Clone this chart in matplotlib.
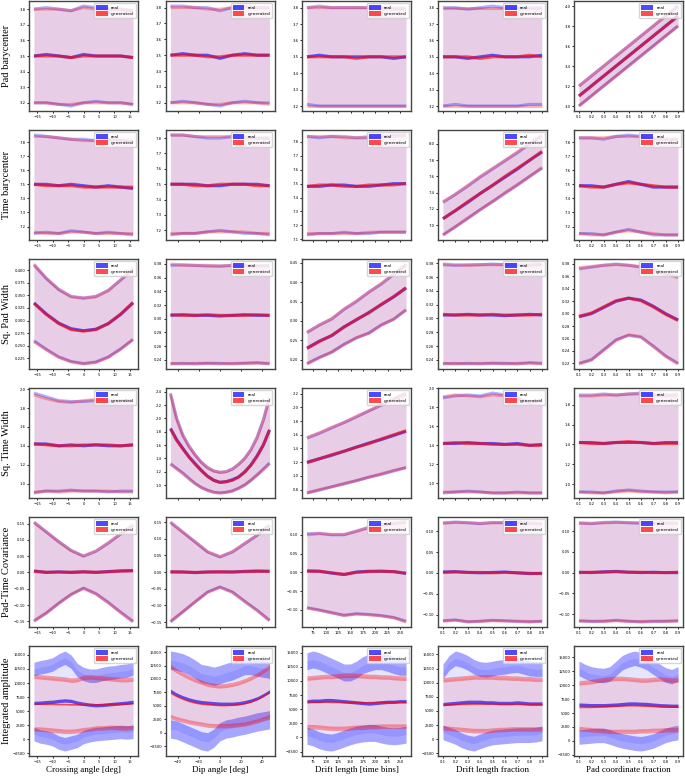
import numpy as np
import matplotlib.pyplot as plt
from matplotlib.patches import Patch
from matplotlib.ticker import MaxNLocator

plt.rcParams['xtick.labelsize'] = 2.7
plt.rcParams['ytick.labelsize'] = 2.7

# column x ranges and labels
x_ranges = [(-16, 16), (-47, 47), (62, 262), (0.1, 0.9), (0.1, 0.9)]
x_names = ["Crossing angle [deg]", "Dip angle [deg]", "Drift length [time bins]",
           "Drift length fraction", "Pad coordinate fraction"]
y_names = ["Pad barycenter", "Time barycenter", "Sq. Pad Width", "Sq. Time Width",
           "Pad-Time Covariance", "Integrated amplitude"]

# ---- Pad barycenter
pad_bary_real_mean = [[3.50, 3.51, 3.50, 3.49, 3.51, 3.50, 3.50, 3.50, 3.49],
                      [3.50, 3.51, 3.50, 3.50, 3.48, 3.50, 3.51, 3.50, 3.50],
                      [3.50, 3.51, 3.50, 3.50, 3.50, 3.50, 3.50, 3.49, 3.50],
                      [3.50, 3.50, 3.49, 3.50, 3.51, 3.50, 3.50, 3.50, 3.51],
                      [3.10, 3.20, 3.30, 3.40, 3.50, 3.60, 3.70, 3.80, 3.90]]
pad_bary_real_hi = [[3.80, 3.81, 3.80, 3.79, 3.82, 3.81, 3.80, 3.80, 3.79],
                    [3.81, 3.81, 3.80, 3.80, 3.78, 3.80, 3.81, 3.80, 3.80],
                    [3.80, 3.81, 3.80, 3.80, 3.80, 3.80, 3.80, 3.79, 3.80],
                    [3.80, 3.80, 3.79, 3.80, 3.81, 3.80, 3.80, 3.80, 3.80],
                    [3.20, 3.30, 3.40, 3.50, 3.60, 3.70, 3.80, 3.90, 4.00]]
pad_bary_real_lo = [[3.20, 3.20, 3.19, 3.18, 3.20, 3.21, 3.20, 3.20, 3.19],
                    [3.20, 3.21, 3.20, 3.19, 3.18, 3.20, 3.21, 3.20, 3.20],
                    [3.21, 3.20, 3.20, 3.20, 3.20, 3.20, 3.20, 3.20, 3.20],
                    [3.20, 3.21, 3.20, 3.20, 3.20, 3.20, 3.20, 3.21, 3.21],
                    [3.00, 3.10, 3.20, 3.30, 3.40, 3.50, 3.60, 3.70, 3.80]]
pad_bary_gen_mean = [[3.50, 3.50, 3.50, 3.49, 3.50, 3.50, 3.50, 3.50, 3.49],
                     [3.50, 3.50, 3.50, 3.49, 3.49, 3.50, 3.50, 3.50, 3.50],
                     [3.50, 3.50, 3.50, 3.50, 3.49, 3.50, 3.50, 3.50, 3.50],
                     [3.50, 3.50, 3.50, 3.49, 3.50, 3.50, 3.50, 3.51, 3.50],
                     [3.10, 3.20, 3.30, 3.40, 3.50, 3.60, 3.70, 3.80, 3.90]]
pad_bary_gen_hi = [[3.80, 3.80, 3.80, 3.79, 3.81, 3.80, 3.80, 3.80, 3.79],
                   [3.80, 3.80, 3.80, 3.79, 3.79, 3.80, 3.80, 3.80, 3.80],
                   [3.80, 3.80, 3.80, 3.80, 3.80, 3.80, 3.80, 3.80, 3.79],
                   [3.80, 3.80, 3.80, 3.80, 3.80, 3.80, 3.80, 3.80, 3.80],
                   [3.20, 3.30, 3.40, 3.50, 3.60, 3.70, 3.80, 3.90, 4.00]]
pad_bary_gen_lo = [[3.20, 3.20, 3.19, 3.19, 3.20, 3.20, 3.20, 3.20, 3.19],
                   [3.20, 3.20, 3.20, 3.19, 3.19, 3.20, 3.20, 3.20, 3.19],
                   [3.20, 3.20, 3.20, 3.20, 3.20, 3.20, 3.20, 3.20, 3.20],
                   [3.20, 3.20, 3.20, 3.20, 3.20, 3.20, 3.20, 3.20, 3.20],
                   [3.00, 3.10, 3.20, 3.30, 3.40, 3.50, 3.60, 3.70, 3.80]]

# ---- Time barycenter
time_bary_real_mean = [[7.50, 7.50, 7.49, 7.50, 7.49, 7.48, 7.49, 7.48, 7.47],
                       [7.50, 7.50, 7.50, 7.49, 7.49, 7.50, 7.50, 7.50, 7.49],
                       [7.48, 7.48, 7.49, 7.49, 7.48, 7.48, 7.49, 7.50, 7.50],
                       [7.08, 7.18, 7.28, 7.39, 7.49, 7.59, 7.69, 7.80, 7.90],
                       [7.49, 7.49, 7.48, 7.50, 7.52, 7.50, 7.48, 7.48, 7.48]]
time_bary_real_hi = [[7.85, 7.84, 7.83, 7.82, 7.82, 7.81, 7.82, 7.81, 7.80],
                     [7.82, 7.82, 7.81, 7.80, 7.80, 7.81, 7.81, 7.80, 7.80],
                     [7.84, 7.83, 7.84, 7.84, 7.83, 7.83, 7.84, 7.85, 7.85],
                     [7.28, 7.38, 7.48, 7.59, 7.69, 7.79, 7.89, 8.00, 8.10],
                     [7.83, 7.83, 7.82, 7.84, 7.85, 7.84, 7.82, 7.82, 7.82]]
time_bary_real_lo = [[7.15, 7.16, 7.15, 7.17, 7.16, 7.15, 7.16, 7.15, 7.14],
                     [7.17, 7.18, 7.18, 7.19, 7.20, 7.19, 7.18, 7.18, 7.17],
                     [7.13, 7.14, 7.14, 7.15, 7.14, 7.14, 7.15, 7.15, 7.15],
                     [6.88, 6.98, 7.08, 7.19, 7.29, 7.39, 7.49, 7.60, 7.70],
                     [7.15, 7.15, 7.14, 7.16, 7.18, 7.16, 7.14, 7.14, 7.14]]
time_bary_gen_mean = [[7.50, 7.49, 7.49, 7.49, 7.48, 7.48, 7.48, 7.48, 7.48],
                      [7.50, 7.50, 7.49, 7.49, 7.50, 7.50, 7.50, 7.49, 7.49],
                      [7.48, 7.49, 7.49, 7.48, 7.48, 7.49, 7.49, 7.49, 7.50],
                      [7.08, 7.18, 7.29, 7.39, 7.49, 7.60, 7.70, 7.80, 7.91],
                      [7.49, 7.48, 7.48, 7.50, 7.51, 7.50, 7.49, 7.48, 7.48]]
time_bary_gen_hi = [[7.84, 7.84, 7.83, 7.82, 7.81, 7.81, 7.82, 7.82, 7.81],
                    [7.82, 7.82, 7.81, 7.81, 7.81, 7.81, 7.80, 7.80, 7.80],
                    [7.84, 7.84, 7.84, 7.83, 7.83, 7.84, 7.84, 7.84, 7.85],
                    [7.29, 7.38, 7.49, 7.60, 7.70, 7.80, 7.90, 8.01, 8.11],
                    [7.83, 7.83, 7.83, 7.84, 7.84, 7.84, 7.83, 7.82, 7.82]]
time_bary_gen_lo = [[7.16, 7.15, 7.15, 7.16, 7.16, 7.15, 7.15, 7.15, 7.15],
                    [7.18, 7.18, 7.18, 7.19, 7.19, 7.19, 7.19, 7.18, 7.18],
                    [7.14, 7.14, 7.14, 7.14, 7.14, 7.15, 7.15, 7.15, 7.15],
                    [6.88, 6.98, 7.09, 7.19, 7.29, 7.40, 7.50, 7.60, 7.71],
                    [7.15, 7.14, 7.14, 7.16, 7.17, 7.16, 7.15, 7.14, 7.14]]

# ---- Sq. Pad Width
pad_width_real_mean = [[0.335, 0.313, 0.295, 0.284, 0.280, 0.283, 0.294, 0.312, 0.335],
                       [0.305, 0.306, 0.305, 0.305, 0.304, 0.305, 0.306, 0.305, 0.305],
                       [0.230, 0.248, 0.262, 0.285, 0.303, 0.322, 0.342, 0.362, 0.385],
                       [0.305, 0.305, 0.306, 0.305, 0.305, 0.304, 0.305, 0.306, 0.305],
                       [0.295, 0.300, 0.310, 0.320, 0.325, 0.322, 0.312, 0.300, 0.290]]
pad_width_real_hi = [[0.410, 0.383, 0.362, 0.348, 0.345, 0.348, 0.360, 0.380, 0.402],
                     [0.378, 0.379, 0.378, 0.377, 0.377, 0.378, 0.378, 0.377, 0.378],
                     [0.270, 0.290, 0.305, 0.330, 0.350, 0.375, 0.395, 0.420, 0.445],
                     [0.378, 0.377, 0.378, 0.378, 0.379, 0.378, 0.377, 0.378, 0.379],
                     [0.372, 0.375, 0.378, 0.380, 0.378, 0.375, 0.372, 0.365, 0.360]]
pad_width_real_lo = [[0.260, 0.243, 0.228, 0.219, 0.215, 0.218, 0.228, 0.244, 0.262],
                     [0.234, 0.235, 0.234, 0.235, 0.235, 0.234, 0.235, 0.236, 0.234],
                     [0.190, 0.206, 0.219, 0.240, 0.256, 0.269, 0.289, 0.304, 0.328],
                     [0.235, 0.234, 0.235, 0.234, 0.235, 0.235, 0.234, 0.236, 0.235],
                     [0.220, 0.226, 0.242, 0.258, 0.265, 0.262, 0.248, 0.232, 0.220]]
pad_width_gen_mean = [[0.334, 0.312, 0.294, 0.282, 0.279, 0.282, 0.294, 0.313, 0.336],
                      [0.306, 0.305, 0.305, 0.306, 0.305, 0.305, 0.305, 0.306, 0.305],
                      [0.229, 0.247, 0.263, 0.284, 0.304, 0.321, 0.343, 0.363, 0.386],
                      [0.306, 0.305, 0.305, 0.305, 0.306, 0.305, 0.305, 0.305, 0.306],
                      [0.296, 0.301, 0.311, 0.321, 0.325, 0.321, 0.311, 0.299, 0.289]]
pad_width_gen_hi = [[0.412, 0.384, 0.361, 0.347, 0.344, 0.347, 0.359, 0.381, 0.404],
                    [0.380, 0.378, 0.378, 0.378, 0.377, 0.378, 0.377, 0.378, 0.377],
                    [0.271, 0.289, 0.306, 0.331, 0.352, 0.374, 0.397, 0.421, 0.447],
                    [0.379, 0.378, 0.377, 0.378, 0.378, 0.378, 0.378, 0.377, 0.378],
                    [0.374, 0.376, 0.378, 0.379, 0.378, 0.376, 0.371, 0.364, 0.358]]
pad_width_gen_lo = [[0.258, 0.242, 0.227, 0.218, 0.214, 0.217, 0.227, 0.243, 0.263],
                    [0.235, 0.234, 0.235, 0.235, 0.234, 0.235, 0.235, 0.235, 0.235],
                    [0.189, 0.205, 0.220, 0.239, 0.257, 0.268, 0.290, 0.305, 0.329],
                    [0.234, 0.235, 0.234, 0.235, 0.235, 0.234, 0.235, 0.235, 0.234],
                    [0.219, 0.225, 0.241, 0.257, 0.266, 0.263, 0.247, 0.231, 0.219]]

# ---- Sq. Time Width
time_width_real_mean = [[1.42, 1.42, 1.40, 1.41, 1.40, 1.41, 1.40, 1.40, 1.41],
                        [1.85, 1.68, 1.55, 1.42, 1.32, 1.22, 1.13, 1.07, 1.04,
                         1.05, 1.08, 1.12, 1.20, 1.30, 1.44, 1.60, 1.83],
                        [1.20, 1.25, 1.30, 1.36, 1.42, 1.48, 1.53, 1.59, 1.65],
                        [1.42, 1.42, 1.43, 1.42, 1.42, 1.41, 1.42, 1.40, 1.41],
                        [1.42, 1.42, 1.41, 1.42, 1.42, 1.42, 1.41, 1.42, 1.42]]
time_width_real_hi = [[1.96, 1.92, 1.88, 1.87, 1.87, 1.88, 1.87, 1.88, 1.88],
                      [2.38, 2.00, 1.75, 1.58, 1.45, 1.34, 1.26, 1.21, 1.19,
                       1.20, 1.24, 1.31, 1.40, 1.53, 1.72, 1.98, 2.32],
                      [1.55, 1.62, 1.70, 1.78, 1.86, 1.95, 2.03, 2.12, 2.20],
                      [1.90, 1.92, 1.93, 1.92, 1.95, 1.93, 1.90, 1.84, 1.88],
                      [1.90, 1.90, 1.91, 1.90, 1.91, 1.92, 1.90, 1.90, 1.91]]
time_width_real_lo = [[0.90, 0.92, 0.92, 0.93, 0.92, 0.92, 0.91, 0.92, 0.92],
                      [1.32, 1.25, 1.18, 1.10, 1.02, 0.96, 0.92, 0.89, 0.88,
                       0.89, 0.91, 0.95, 1.00, 1.07, 1.15, 1.24, 1.33],
                      [0.75, 0.79, 0.84, 0.88, 0.93, 0.98, 1.02, 1.07, 1.12],
                      [0.90, 0.91, 0.92, 0.91, 0.90, 0.90, 0.91, 0.90, 0.90],
                      [0.92, 0.92, 0.91, 0.93, 0.94, 0.93, 0.92, 0.92, 0.92]]
time_width_gen_mean = [[1.42, 1.41, 1.40, 1.40, 1.41, 1.41, 1.41, 1.40, 1.41],
                       [1.84, 1.67, 1.54, 1.42, 1.31, 1.21, 1.13, 1.07, 1.04,
                        1.05, 1.07, 1.12, 1.19, 1.30, 1.43, 1.60, 1.82],
                       [1.19, 1.25, 1.31, 1.36, 1.42, 1.47, 1.54, 1.60, 1.66],
                       [1.42, 1.43, 1.42, 1.42, 1.41, 1.41, 1.41, 1.40, 1.40],
                       [1.42, 1.41, 1.41, 1.42, 1.43, 1.42, 1.41, 1.41, 1.41]]
time_width_gen_hi = [[1.94, 1.90, 1.87, 1.86, 1.88, 1.89, 1.88, 1.87, 1.88],
                     [2.36, 1.99, 1.74, 1.58, 1.45, 1.34, 1.26, 1.21, 1.19,
                      1.20, 1.24, 1.31, 1.40, 1.53, 1.71, 1.97, 2.30],
                     [1.56, 1.63, 1.71, 1.78, 1.87, 1.95, 2.04, 2.13, 2.21],
                     [1.91, 1.93, 1.92, 1.91, 1.93, 1.92, 1.89, 1.86, 1.87],
                     [1.89, 1.89, 1.90, 1.90, 1.91, 1.91, 1.90, 1.89, 1.89]]
time_width_gen_lo = [[0.91, 0.92, 0.91, 0.92, 0.92, 0.92, 0.92, 0.91, 0.91],
                     [1.31, 1.24, 1.17, 1.09, 1.02, 0.96, 0.92, 0.89, 0.88,
                      0.89, 0.91, 0.95, 1.00, 1.07, 1.15, 1.23, 1.32],
                     [0.75, 0.80, 0.84, 0.89, 0.93, 0.98, 1.03, 1.08, 1.12],
                     [0.91, 0.91, 0.91, 0.91, 0.90, 0.90, 0.90, 0.90, 0.90],
                     [0.92, 0.91, 0.91, 0.92, 0.93, 0.92, 0.92, 0.91, 0.92]]

# ---- Pad-Time Covariance
cov_real_mean = [[0.005, 0.000, 0.002, 0.000, 0.002, 0.000, 0.003, 0.005, 0.006],
                 [0.000, 0.000, -0.002, 0.000, 0.000, 0.000, 0.002, 0.003, 0.002],
                 [0.004, 0.003, -0.002, -0.006, 0.001, 0.003, 0.003, 0.002, -0.003],
                 [0.002, 0.003, 0.001, 0.000, 0.001, 0.002, 0.000, -0.002, -0.001],
                 [0.001, 0.000, 0.002, 0.003, 0.001, 0.000, 0.001, 0.000, 0.000]]
cov_real_hi = [[0.155, 0.125, 0.095, 0.068, 0.050, 0.065, 0.090, 0.118, 0.145],
               [0.150, 0.120, 0.090, 0.060, 0.045, 0.060, 0.085, 0.110, 0.140],
               [0.103, 0.104, 0.100, 0.100, 0.110, 0.120, 0.126, 0.130, 0.133],
               [0.120, 0.122, 0.120, 0.118, 0.121, 0.120, 0.122, 0.119, 0.118],
               [0.120, 0.118, 0.121, 0.122, 0.120, 0.119, 0.120, 0.120, 0.119]]
cov_real_lo = [[-0.150, -0.125, -0.095, -0.068, -0.048, -0.065, -0.092, -0.122, -0.150],
               [-0.150, -0.120, -0.090, -0.060, -0.045, -0.060, -0.088, -0.115, -0.145],
               [-0.094, -0.100, -0.108, -0.114, -0.110, -0.112, -0.115, -0.120, -0.130],
               [-0.115, -0.113, -0.118, -0.116, -0.114, -0.115, -0.117, -0.118, -0.116],
               [-0.116, -0.118, -0.117, -0.115, -0.117, -0.119, -0.118, -0.117, -0.116]]
cov_gen_mean = [[0.003, 0.001, 0.001, 0.001, 0.002, 0.001, 0.002, 0.004, 0.005],
                [0.001, 0.000, -0.001, 0.000, 0.001, 0.000, 0.001, 0.002, 0.002],
                [0.003, 0.003, -0.001, -0.005, 0.000, 0.002, 0.003, 0.002, -0.002],
                [0.001, 0.002, 0.001, 0.001, 0.000, 0.001, 0.000, -0.001, -0.002],
                [0.000, 0.001, 0.001, 0.002, 0.001, 0.001, 0.000, 0.000, 0.001]]
cov_gen_hi = [[0.153, 0.124, 0.094, 0.067, 0.051, 0.066, 0.091, 0.119, 0.146],
              [0.148, 0.119, 0.090, 0.061, 0.046, 0.061, 0.086, 0.111, 0.141],
              [0.100, 0.103, 0.101, 0.101, 0.109, 0.119, 0.125, 0.131, 0.134],
              [0.119, 0.121, 0.121, 0.119, 0.120, 0.121, 0.121, 0.120, 0.119],
              [0.119, 0.119, 0.120, 0.121, 0.121, 0.120, 0.119, 0.119, 0.120]]
cov_gen_lo = [[-0.148, -0.124, -0.094, -0.067, -0.049, -0.066, -0.093, -0.123, -0.152],
              [-0.148, -0.119, -0.089, -0.061, -0.046, -0.061, -0.089, -0.116, -0.146],
              [-0.095, -0.101, -0.107, -0.115, -0.111, -0.113, -0.116, -0.121, -0.132],
              [-0.116, -0.114, -0.117, -0.117, -0.115, -0.116, -0.116, -0.117, -0.117],
              [-0.117, -0.117, -0.118, -0.116, -0.118, -0.118, -0.117, -0.118, -0.117]]

# ---- Integrated amplitude
amp_real_mean = [[6450, 6500, 6600, 6650, 6800, 6900, 6800, 6500, 6300, 6150, 6050, 6100, 6200, 6300, 6400, 6500, 6650],
                 [7800, 7100, 6600, 6200, 5900, 5700, 5600, 5500, 5400, 5400, 5400, 5500, 5700, 6000, 6400, 7000, 7700],
                 [6400, 6500, 6500, 6600, 6600, 6500, 6400, 6300, 6200, 6100, 6000, 6100, 6200, 6300, 6300, 6400, 6400],
                 [6200, 6300, 6400, 6500, 6600, 6600, 6600, 6500, 6500, 6400, 6400, 6400, 6500, 6400, 6300, 6300, 6300],
                 [6500, 6450, 6400, 6400, 6400, 6450, 6500, 6600, 6700, 6700, 6650, 6600, 6500, 6400, 6350, 6300, 6300]]
amp_real_hi = [[12500, 12800, 13000, 13300, 14000, 14500, 13800, 12300, 11600, 11300, 11300, 11600, 11800, 11900, 12100, 12200, 12600],
               [13500, 13300, 13000, 12500, 11800, 11000, 10800, 10500, 10800, 11200, 11500, 12000, 12500, 12500, 12200, 12000, 11800],
               [13500, 13800, 13500, 13000, 12500, 12000, 11500, 11500, 12000, 12800, 13200, 13500, 13500, 13200, 12800, 12500, 12500],
               [12000, 13500, 14300, 14000, 13500, 12800, 12400, 12300, 12500, 12700, 12800, 13000, 13100, 12800, 12500, 12400, 12400],
               [13000, 12400, 12000, 11800, 11700, 12000, 13000, 14000, 14500, 14800, 14500, 14000, 13200, 12500, 11800, 11500, 12000]]
amp_real_lo = [[900, 500, 300, 0, -600, -900, -600, -300, 400, 700, 900, 1000, 1100, 1200, 1300, 1200, 1300],
               [700, 500, 0, -500, -1000, -1500, -1700, -1000, 200, 700, 900, 1200, 1400, 1700, 2000, 2200, 2400],
               [300, 0, -500, -800, -900, -600, -200, 200, 500, 700, 800, 800, 500, 300, 200, 300, 500],
               [1200, 800, 400, -200, -600, -800, -400, 0, 300, 400, 500, 600, 700, 700, 700, 800, 1000],
               [700, 800, 900, 1000, 1000, 700, 300, 0, -200, -400, -500, -300, 0, 500, 1000, 1300, 1500]]
amp_gen_mean = [[6350, 6350, 6300, 6300, 6250, 6250, 6200, 6200, 6150, 6150, 6200, 6200, 6250, 6300, 6300, 6350, 6400],
                [7400, 6800, 6300, 5900, 5600, 5400, 5300, 5200, 5150, 5150, 5200, 5300, 5500, 5800, 6300, 6900, 7600],
                [6300, 6300, 6300, 6350, 6300, 6300, 6250, 6250, 6200, 6200, 6250, 6250, 6300, 6300, 6300, 6300, 6300],
                [6100, 6150, 6200, 6250, 6250, 6300, 6300, 6300, 6300, 6250, 6250, 6250, 6250, 6200, 6200, 6200, 6200],
                [6100, 6100, 6100, 6150, 6200, 6250, 6300, 6350, 6400, 6400, 6350, 6300, 6250, 6200, 6150, 6150, 6150]]
amp_gen_hi = [[11200, 11100, 11000, 10900, 10800, 10700, 10500, 10600, 11000, 11100, 11000, 10900, 10800, 10700, 10600, 10600, 10700],
              [12300, 11500, 10900, 10300, 9800, 9400, 9000, 8800, 8700, 8800, 9000, 9300, 9700, 10200, 10800, 11500, 12300],
              [10500, 10600, 10700, 10800, 10800, 10900, 11000, 11000, 11000, 10900, 10800, 10800, 10700, 10700, 10600, 10500, 10500],
              [10500, 10600, 10700, 10800, 10900, 11000, 11000, 11000, 11000, 10900, 10900, 10800, 10800, 10700, 10700, 10600, 10600],
              [10400, 10500, 10600, 10800, 11000, 11100, 11200, 11200, 11100, 11000, 10900, 10900, 11000, 11100, 11000, 10900, 10900]]
amp_gen_lo = [[1800, 1800, 1700, 1600, 1500, 1400, 1400, 1500, 1700, 1800, 2000, 2000, 2100, 2100, 2000, 2000, 2100],
              [3000, 2600, 2300, 2000, 1800, 1600, 1400, 1300, 1300, 1300, 1400, 1500, 1600, 1900, 2200, 2600, 3000],
              [1900, 1900, 1800, 1700, 1600, 1600, 1600, 1700, 1800, 1800, 1900, 1900, 2000, 2000, 2000, 2000, 2000],
              [2000, 1900, 1800, 1700, 1600, 1500, 1500, 1500, 1600, 1700, 1700, 1800, 1800, 1800, 1800, 1800, 1800],
              [2200, 2100, 2000, 1900, 1800, 1700, 1700, 1700, 1700, 1700, 1800, 1800, 1900, 1900, 2000, 2000, 2000]]
# half widths of the uncertainty bands on the amplitude curves
amp_real_std_err = [1200, 1700, 1500, 1300, 1300]
amp_real_mean_err = 300
amp_gen_std_err = 400
amp_gen_mean_err = 150

rows = [
    (pad_bary_real_mean, pad_bary_real_lo, pad_bary_real_hi, pad_bary_gen_mean, pad_bary_gen_lo, pad_bary_gen_hi),
    (time_bary_real_mean, time_bary_real_lo, time_bary_real_hi, time_bary_gen_mean, time_bary_gen_lo, time_bary_gen_hi),
    (pad_width_real_mean, pad_width_real_lo, pad_width_real_hi, pad_width_gen_mean, pad_width_gen_lo, pad_width_gen_hi),
    (time_width_real_mean, time_width_real_lo, time_width_real_hi, time_width_gen_mean, time_width_gen_lo, time_width_gen_hi),
    (cov_real_mean, cov_real_lo, cov_real_hi, cov_gen_mean, cov_gen_lo, cov_gen_hi),
    (amp_real_mean, amp_real_lo, amp_real_hi, amp_gen_mean, amp_gen_lo, amp_gen_hi),
]


def draw(ax, x, mean, lo, hi, color, errs=None):
    mean, lo, hi = np.array(mean, float), np.array(lo, float), np.array(hi, float)
    ax.fill_between(x, lo, hi, color=color, alpha=0.1, lw=0)
    if errs is None:
        ax.plot(x, hi, color=color, lw=2.2, alpha=0.3, solid_capstyle='butt')
        ax.plot(x, lo, color=color, lw=2.2, alpha=0.3, solid_capstyle='butt')
        ax.plot(x, mean, color=color, lw=2.2, alpha=0.6, solid_capstyle='butt')
    else:
        em, es = errs
        ax.fill_between(x, hi - es, hi + es, color=color, alpha=0.35, lw=0)
        ax.fill_between(x, lo - es, lo + es, color=color, alpha=0.35, lw=0)
        ax.fill_between(x, mean - em, mean + em, color=color, alpha=0.65, lw=0)


fig = plt.figure(figsize=(6.85, 7.76), dpi=100)
W, H = 685, 776
lefts = [29, 165.5, 302, 438, 574]
tops = [1, 130, 259, 388, 517, 646]
aw, ah = 109, 110

for r, data in enumerate(rows):
    rm, rl, rh, gm, gl, gh = data
    for c in range(5):
        ax = fig.add_axes([lefts[c] / W, 1 - (tops[r] + ah) / H, aw / W, ah / H])
        x = np.linspace(x_ranges[c][0], x_ranges[c][1], len(rm[c]))
        if r == 5:
            draw(ax, x, rm[c], rl[c], rh[c], 'blue', (amp_real_mean_err, amp_real_std_err[c]))
            draw(ax, x, gm[c], gl[c], gh[c], 'red', (amp_gen_mean_err, amp_gen_std_err))
        else:
            draw(ax, x, rm[c], rl[c], rh[c], 'blue')
            draw(ax, x, gm[c], gl[c], gh[c], 'red')
        handles = [Patch(facecolor='blue', alpha=0.7), Patch(facecolor='red', alpha=0.7)]
        ax.legend(handles, ['real', 'generated'], loc='upper right', fontsize=3.2,
                  handlelength=2.6, handleheight=1.2, borderpad=0.4, labelspacing=0.3)
        ax.xaxis.set_major_locator(MaxNLocator(nbins=9, steps=[1, 2, 2.5, 5, 10]))
        ax.yaxis.set_major_locator(MaxNLocator(nbins=9, steps=[1, 2, 2.5, 5, 10]))
        for s in ax.spines.values():
            s.set_color('#444444')
            s.set_linewidth(1.0)
        ax.tick_params(length=1.6, width=0.6, pad=1.0)
        show_x = c in (0, 4) or r == 5 or (r == 4 and c in (2, 3))
        if not show_x:
            ax.tick_params(labelbottom=False)
        if c == 0:
            ax.set_ylabel(y_names[r], family='Liberation Serif', fontsize=7.5)
            ax.yaxis.set_label_coords(-0.165, 0.5)
        if r == 5:
            ax.set_xlabel(x_names[c], family='Liberation Serif', fontsize=6.5, labelpad=2)

fig.savefig('out.png', dpi=100)
